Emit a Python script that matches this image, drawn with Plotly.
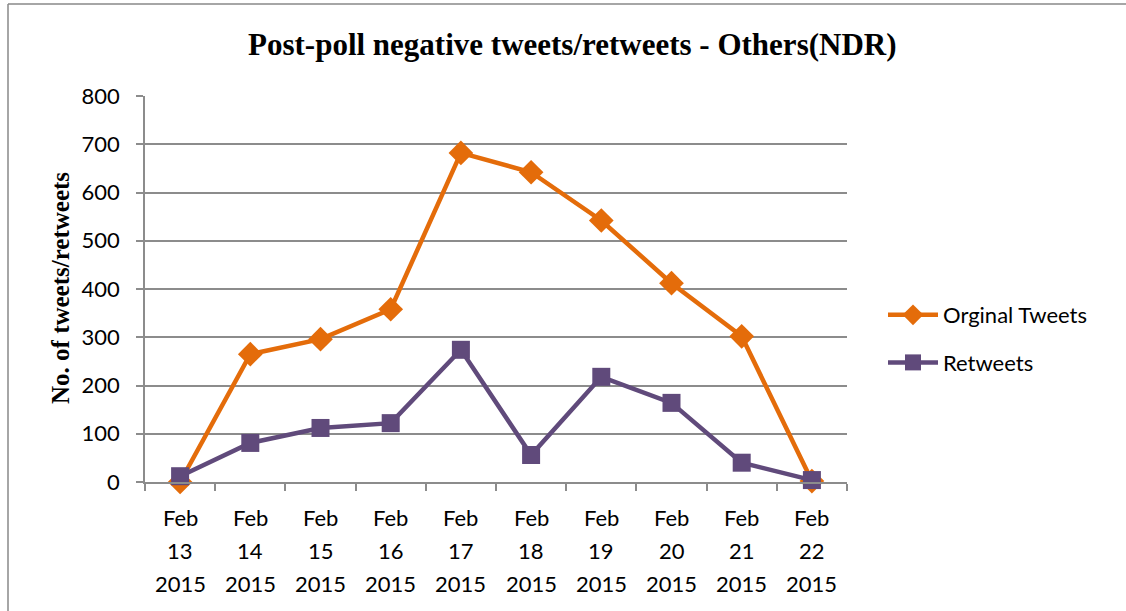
import plotly.graph_objects as go

months = ["Feb"] * 10
days = ["13", "14", "15", "16", "17", "18", "19", "20", "21", "22"]
years = ["2015"] * 10
categories = [f"{m} {d} {y}" for m, d, y in zip(months, days, years)]
original_tweets = [0, 265, 296, 358, 682, 642, 542, 412, 302, 2]
retweets = [12, 81, 112, 122, 274, 56, 218, 164, 40, 4]
y_ticks = [0, 100, 200, 300, 400, 500, 600, 700, 800]

W, H = 1126, 611
L, R, T, B = 145, 847, 96, 482

def px_x(p):
    return (p - L) / (R - L)

def px_y(p):
    return (B - p) / (B - T)

fig = go.Figure()
fig.add_trace(go.Scatter(
    x=categories, y=original_tweets, name="Orginal Tweets", mode="lines+markers",
    line=dict(color="#E46C0A", width=4.5),
    marker=dict(symbol="diamond", size=19, color="#E46C0A"),
    cliponaxis=False, legendgroup="a"))
fig.add_trace(go.Scatter(
    x=categories, y=retweets, name="Retweets", mode="lines+markers",
    line=dict(color="#604A7B", width=4.5),
    marker=dict(symbol="square", size=18, color="#604A7B"),
    cliponaxis=False, legendgroup="b"))

grid = "#8C8C8C"
lab_font = dict(family="Lato, Open Sans, sans-serif", size=22, color="#000000")

annotations = []
for i, c in enumerate(categories):
    for j, txt in enumerate([months[i], days[i], years[i]]):
        annotations.append(dict(
            x=c, xref="x", y=px_y(517 + j * 33), yref="paper",
            text=txt, showarrow=False, font=lab_font,
            xanchor="center", yanchor="middle"))

annotations.append(dict(
    x=px_x(60), xref="paper", y=px_y(288), yref="paper",
    text="<b>No. of tweets/retweets</b>", textangle=-90, showarrow=False,
    font=dict(family="Liberation Serif, Times New Roman, serif", size=25, color="#000000"),
    xanchor="center", yanchor="middle"))

annotations.append(dict(
    x=px_x(572), xref="paper", y=px_y(45), yref="paper",
    text="<b>Post-poll negative tweets/retweets - Others(NDR)</b>", showarrow=False,
    font=dict(family="Liberation Serif, Times New Roman, serif", size=31, color="#000000"),
    xanchor="center", yanchor="middle"))

shapes = [
    dict(type="line", xref="paper", yref="paper",
         x0=px_x(8), x1=px_x(8), y0=px_y(4), y1=px_y(640),
         line=dict(color="#888888", width=1.5)),
    dict(type="line", xref="paper", yref="paper",
         x0=px_x(8), x1=px_x(1140), y0=px_y(4), y1=px_y(4),
         line=dict(color="#888888", width=1.5)),
]

fig.update_layout(
    width=W, height=H,
    margin=dict(l=L, r=W - R, t=T, b=H - B, pad=0),
    paper_bgcolor="white", plot_bgcolor="white",
    showlegend=True,
    legend=dict(x=px_x(883), y=px_y(294), xanchor="left", yanchor="top",
                font=lab_font, traceorder="grouped", tracegroupgap=16,
                itemwidth=50, bgcolor="rgba(0,0,0,0)"),
    xaxis=dict(type="category", range=[-0.5, 9.5], showticklabels=False,
               showgrid=False, showline=True, linecolor=grid, linewidth=1.5,
               ticks="outside", ticklen=7, tickcolor=grid, tickwidth=1.5,
               tickson="boundaries", zeroline=False, fixedrange=True),
    yaxis=dict(range=[0, 800], tickvals=y_ticks, ticktext=[str(v) for v in y_ticks],
               showgrid=True, gridcolor=grid, gridwidth=1.5,
               showline=True, linecolor=grid, linewidth=1.5,
               ticks="outside", ticklen=7, tickcolor=grid, tickwidth=1.5,
               tickfont=lab_font, ticklabelstandoff=12, zeroline=False),
    annotations=annotations,
    shapes=shapes,
)

fig.write_html("out.html")
